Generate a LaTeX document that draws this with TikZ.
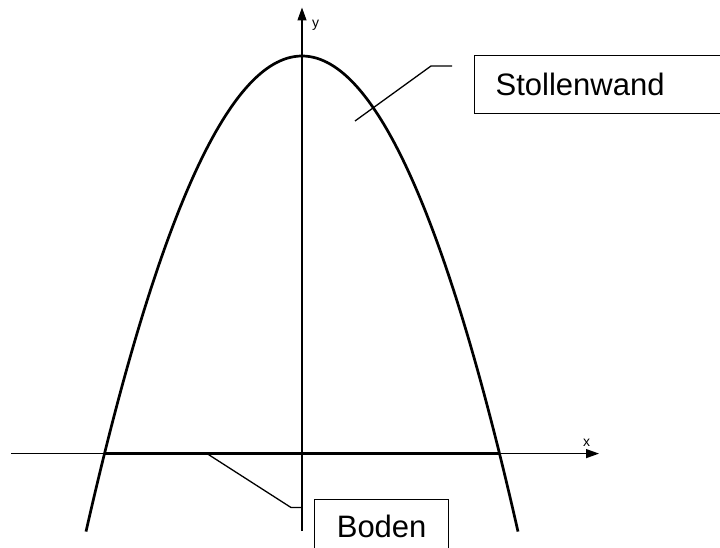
\documentclass[tikz,border=0pt]{standalone}
\usepackage{fontspec}
\setmainfont{Liberation Sans}
\usetikzlibrary{arrows.meta}
\begin{document}
\begin{tikzpicture}[x=1pt,y=-1pt,
  axis/.style={line width=1.3pt,-{Triangle[length=13pt,width=9pt]}},
  wall/.style={line width=2.7pt},
  floorline/.style={line width=3.4pt},
  leader/.style={line width=1.3pt},
  labelbox/.style={draw,line width=1.3pt,font=\fontsize{31}{36}\selectfont,inner sep=0pt},
  axlabel/.style={font=\fontsize{14}{16}\selectfont,inner sep=0pt,anchor=base west}]
\useasboundingbox (0,0) rectangle (720,548);
\clip (0,0) rectangle (720,548);
% axes
\coordinate (xs) at (11,453.6);
\coordinate (xe) at (599,453.6);
\coordinate (ys) at (302,531);
\coordinate (ye) at (302,7.5);
\draw[axis] (xs) -- (xe);
\draw[axis] (ys) -- (ye);
\node[axlabel] (xl) at (583,446) {x};
\node[axlabel] (yl) at (312,28) {y};
% tunnel wall (parabola)
\draw[wall] plot[domain=-216:216,samples=121,smooth] ({302+\x},{56+1.0193*(\x/10)*(\x/10)});
% floor
\coordinate (bl) at (105,453.6);
\coordinate (br) at (500,453.6);
\draw[floorline] (bl) -- (br);
% labels
\node[labelbox, anchor=north west, minimum height=58pt, text width=230pt, inner xsep=21pt, align=left] (stol) at (474,55) {Stollenwand};
\node[labelbox, anchor=north west, minimum width=134pt, minimum height=54pt] (boden) at (314,499) {Boden};
% leaders
\coordinate (s1) at (355,121);
\coordinate (s2) at (431,66);
\coordinate (s3) at (452,66);
\draw[leader] (s1) -- (s2) -- (s3);
\coordinate (b1) at (207,453.6);
\coordinate (b2) at (291,507.5);
\coordinate (b3) at (302,507.5);
\draw[leader] (b1) -- (b2) -- (b3);
\end{tikzpicture}
\end{document}
